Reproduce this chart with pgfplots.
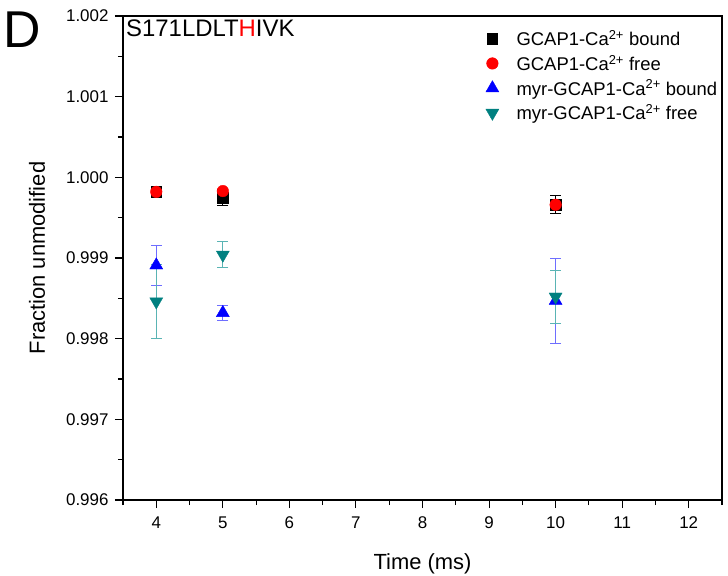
\documentclass[border=0pt]{standalone}
\usepackage{pgfplots}
\pgfplotsset{compat=1.18}
\usepackage{fontspec}
\setmainfont{Liberation Sans}
\definecolor{tealc}{RGB}{0,128,128}
\definecolor{blueeb}{RGB}{110,110,255}
\definecolor{tealeb}{RGB}{90,180,180}
\begin{document}
\begin{tikzpicture}
\begin{axis}[
  scale only axis,
  width=599bp, height=484bp,
  xmin=3.5, xmax=12.5,
  ymin=0.996, ymax=1.002,
  xtick={4,5,6,7,8,9,10,11,12},
  minor xtick={3.5,4.5,5.5,6.5,7.5,8.5,9.5,10.5,11.5,12.5},
  ytick={0.996,0.997,0.998,0.999,1.000,1.001,1.002},
  minor ytick={0.9965,0.9975,0.9985,0.9995,1.0005,1.0015},
  scaled y ticks=false,
  yticklabels={0.996,0.997,0.998,0.999,1.000,1.001,1.002},
  xticklabels={4,5,6,7,8,9,10,11,12},
  tick label style={font=\fontsize{17}{19}\selectfont},
  xticklabel style={yshift=-5bp},
  yticklabel style={xshift=-3bp},
  tick pos=left,
  tick align=outside,
  major tick length=8bp,
  minor tick length=5bp,
  every tick/.style={black, line width=1.1bp},
  axis line style={line width=1.2bp},
  xlabel={Time (ms)},
  ylabel={Fraction unmodified},
  label style={font=\fontsize{22}{24}\selectfont},
  xlabel style={at={(rel axis cs:0.5,0)}, anchor=center, yshift=-64bp},
  ylabel style={at={(rel axis cs:0,0.5)}, anchor=center, yshift=86bp},
  clip=false,
  legend image code/.code={\draw[#1] plot coordinates {(11bp,0bp)}; \path (0bp,0bp) (33bp,0bp);},
  legend style={at={(rel axis cs:0.596,0.977)}, anchor=north west, draw=none, fill=none,
    font=\fontsize{18.5}{20}\selectfont, row sep=4bp, inner sep=1bp},
  legend cell align=left,
]
\addplot[only marks, mark=square*, mark size=5.2bp, black,
  error bars/.cd, y dir=both, y explicit,
  error bar style={black, line width=1bp},
  error mark options={rotate=90, mark size=5.5bp, black, line width=1bp}]
  coordinates {
  (4,0.99982) +- (0,0.00003)
  (5,0.99975) +- (0,0.00010)
  (10,0.99966) +- (0,0.00011)
};
\addlegendentry{GCAP1-Ca\textsuperscript{2+} bound}
\addplot[only marks, mark=*, mark size=5.8bp, red,
  error bars/.cd, y dir=both, y explicit,
  error bar style={red, line width=1bp},
  error mark options={rotate=90, mark size=5.5bp, red, line width=1bp}]
  coordinates {
  (4,0.99982) +- (0,0.00002)
  (5,0.99983) +- (0,0.00001)
  (10,0.99966) +- (0,0.00003)
};
\addlegendentry{GCAP1-Ca\textsuperscript{2+} free}
\addplot[only marks, mark=triangle*, mark size=7.5bp, blue,
  error bars/.cd, y dir=both, y explicit,
  error bar style={blueeb, line width=1bp},
  error mark options={rotate=90, mark size=5.5bp, blueeb, line width=1bp}]
  coordinates {
  (4,0.99891) +- (0,0.00025)
  (5,0.99832) +- (0,0.00009)
  (10,0.99847) +- (0,0.00053)
};
\addlegendentry{myr-GCAP1-Ca\textsuperscript{2+} bound}
\addplot[only marks, mark=triangle*, mark size=7.5bp, tealc, mark options={rotate=180},
  error bars/.cd, y dir=both, y explicit,
  error bar style={tealeb, line width=1bp},
  error mark options={rotate=90, mark size=5.5bp, tealeb, line width=1bp}]
  coordinates {
  (4,0.99846) +- (0,0.00046)
  (5,0.99904) +- (0,0.00016)
  (10,0.99852) +- (0,0.00033)
};
\addlegendentry{myr-GCAP1-Ca\textsuperscript{2+} free}
\node[anchor=north west, inner sep=0pt, font=\fontsize{24}{26}\selectfont] at ([shift={(3bp,-4bp)}]rel axis cs:0,1) {S171LDLT\textcolor{red}{H}IVK};
\node[anchor=center, inner sep=0pt, font=\fontsize{52}{54}\selectfont] at ([shift={(-101bp,-14bp)}]rel axis cs:0,1) {D};
\coordinate (SW) at (rel axis cs:0,0);
\end{axis}
\pgfresetboundingbox
\path[use as bounding box] ([shift={(-123bp,-76bp)}]SW) rectangle ([shift={(605bp,500bp)}]SW);
\end{tikzpicture}
\end{document}
